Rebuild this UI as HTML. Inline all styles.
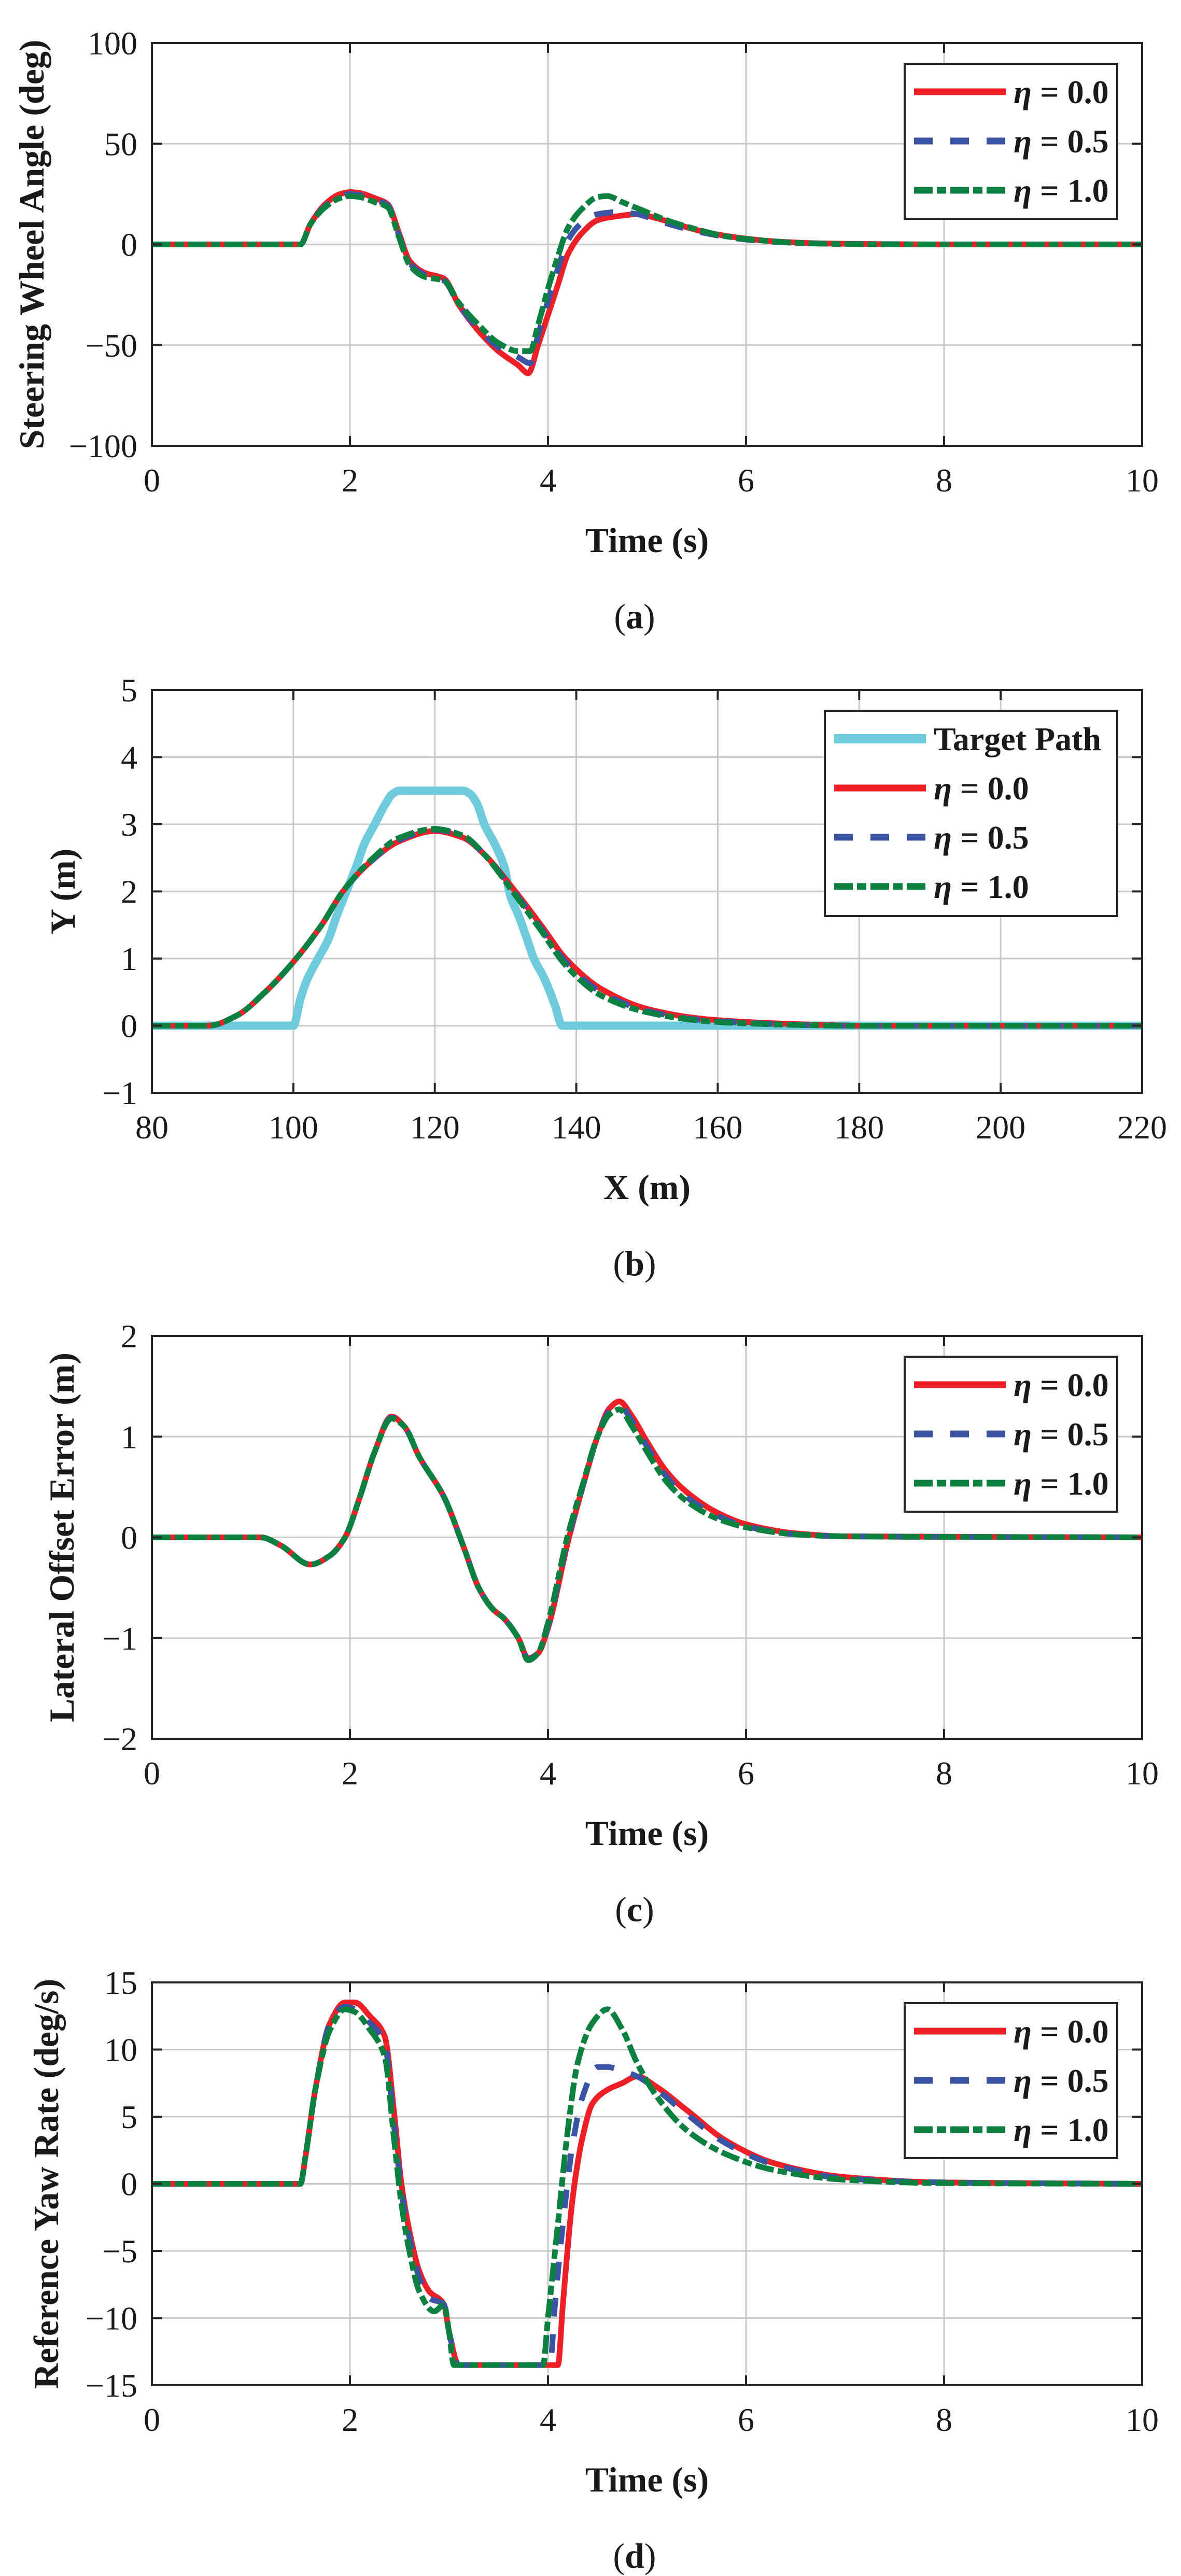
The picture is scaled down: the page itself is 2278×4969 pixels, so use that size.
<!DOCTYPE html>
<html><head><meta charset="utf-8"><style>
html,body{margin:0;padding:0;background:#fff;}
svg{display:block;}
text{font-family:"Liberation Serif",serif;fill:#1a1a1a;}
</style></head><body>
<svg id="fig" width="2278" height="4969" viewBox="0 0 2278 4969" xmlns="http://www.w3.org/2000/svg"></svg>
<script>
// ---------- Panel (a): Steering wheel angle ----------
const aT0 = [0,1.5,1.6,1.75,1.9,2.0,2.1,2.25,2.38,2.5,2.6,2.75,2.95,3.1,3.3,3.5,3.7,3.8,3.9,4.0,4.1,4.2,4.35,4.5,4.7,4.9,5.1,5.3,5.6,5.9,6.3,6.8,7.3,8,10];
const aV0 = [0,0,10,20,25,26,25.5,23,20,5,-8,-14,-17,-30,-43,-53,-60,-64,-50,-35,-20,-5,6,12,14,15,13,10,6,3.5,1.5,0.5,0.2,0,0];
const aT1 = [0,1.5,1.6,1.75,1.9,2.0,2.1,2.25,2.38,2.5,2.6,2.75,2.95,3.1,3.3,3.5,3.7,3.82,3.9,4.0,4.1,4.2,4.35,4.5,4.7,4.9,5.1,5.3,5.6,5.9,6.3,6.8,7.3,8,10];
const aV1 = [0,0,10,19,24,25,24.5,22,19.5,4,-9,-15,-18,-30,-42,-51,-56,-59,-45,-28,-12,2,11,15,16,15,12,9,5.5,3,1.2,0.4,0.1,0,0];
const aT2 = [0,1.5,1.6,1.75,1.9,2.0,2.1,2.25,2.38,2.5,2.6,2.75,2.95,3.1,3.3,3.5,3.7,3.82,3.9,4.0,4.1,4.2,4.35,4.5,4.6,4.75,4.95,5.2,5.5,5.8,6.2,6.6,7.2,8,10];
const aV2 = [0,0,10,18.5,23,24,23.5,21,18.5,3,-10,-16,-18,-29,-40,-49,-53,-53,-40,-22,-6,8,18,23.5,24,21,17,12,7.5,4,1.8,0.6,0.1,0,0];
const aXTicks = [0,2,4,6,8,10];
const aYTicks = [-100,-50,0,50,100];

// ---------- Panel (b): Path ----------
const bTX = [80,100,101,102,103.5,105,106,107.5,109,110,111.5,113,114,115,124,125,126,127,128.5,130,130.5,132,133,134,135.5,137,138,150,220];
const bTY = [0,0,0.4,0.7,1.0,1.3,1.6,2.0,2.4,2.7,3.0,3.3,3.45,3.5,3.5,3.45,3.3,3.0,2.7,2.3,2.0,1.6,1.3,1.0,0.7,0.3,0,0,0];
const bX0 = [80,88,92,96,100,104,107,111,115,120,124,127,131,135,138.5,143.5,150,158,165,172,180,220];
const bY0 = [0,0,0.15,0.5,0.95,1.5,2.0,2.45,2.75,2.9,2.8,2.55,2.05,1.5,1.0,0.55,0.25,0.1,0.05,0.02,0,0];
const bX1 = [80,88,92,96,100,104,107,111,115,120,124,127,131,135,138.5,143.5,150,158,165,172,180,220];
const bY1 = [0,0,0.15,0.5,0.95,1.5,2.0,2.45,2.77,2.92,2.82,2.55,2.02,1.45,0.95,0.5,0.22,0.08,0.04,0.01,0,0];
const bX2 = [80,88,92,96,100,104,107,111,115,120,124,127,131,135,138.5,143.5,150,158,165,172,180,220];
const bY2 = [0,0,0.15,0.5,0.95,1.5,2.0,2.47,2.8,2.93,2.83,2.55,2.0,1.42,0.9,0.45,0.2,0.07,0.03,0.01,0,0];
const bXTicks = [80,100,120,140,160,180,200,220];
const bYTicks = [-1,0,1,2,3,4,5];

// ---------- Panel (c): Lateral offset error ----------
const cT0 = [0,1.1,1.3,1.6,1.8,1.95,2.1,2.25,2.42,2.55,2.7,2.95,3.15,3.3,3.45,3.55,3.7,3.8,3.9,4.0,4.2,4.35,4.5,4.62,4.72,4.85,5.0,5.2,5.4,5.7,6.0,6.5,7,10];
const cV0 = [0,0,-0.08,-0.27,-0.18,0,0.4,0.85,1.2,1.1,0.8,0.4,-0.1,-0.5,-0.72,-0.8,-1.0,-1.2,-1.15,-0.9,-0.05,0.5,1.0,1.28,1.35,1.2,0.95,0.65,0.45,0.25,0.13,0.04,0.01,0];
const cT1 = [0,1.1,1.3,1.6,1.8,1.95,2.1,2.25,2.42,2.55,2.7,2.95,3.15,3.3,3.45,3.55,3.7,3.8,3.9,4.0,4.2,4.35,4.5,4.62,4.72,4.85,5.0,5.2,5.4,5.7,6.0,6.5,7,10];
const cV1 = [0,0,-0.08,-0.27,-0.18,0,0.4,0.85,1.19,1.1,0.8,0.4,-0.1,-0.5,-0.72,-0.8,-1.0,-1.21,-1.15,-0.88,-0.02,0.5,1.0,1.25,1.31,1.15,0.9,0.6,0.4,0.22,0.11,0.03,0.01,0];
const cT2 = [0,1.1,1.3,1.6,1.8,1.95,2.1,2.25,2.42,2.55,2.7,2.95,3.15,3.3,3.45,3.55,3.7,3.8,3.9,4.0,4.2,4.35,4.5,4.62,4.72,4.85,5.0,5.2,5.4,5.7,6.0,6.5,7,10];
const cV2 = [0,0,-0.08,-0.27,-0.18,0,0.4,0.85,1.18,1.1,0.8,0.4,-0.1,-0.5,-0.72,-0.8,-1.0,-1.22,-1.15,-0.85,0.02,0.52,1.0,1.22,1.27,1.1,0.85,0.55,0.36,0.19,0.1,0.03,0.01,0];
const cXTicks = [0,2,4,6,8,10];
const cYTicks = [-2,-1,0,1,2];

// ---------- Panel (d): Reference yaw rate ----------
const dT0 = [0,1.5,1.55,1.65,1.8,1.95,2.05,2.2,2.35,2.45,2.52,2.6,2.7,2.8,2.95,3.0,3.1,4.1,4.15,4.25,4.35,4.45,4.6,4.75,4.9,5.1,5.4,5.8,6.3,7,8,10];
const dV0 = [0,0,2,7,12,13.5,13.5,12.5,11,5,0,-3.5,-6.5,-8,-9,-11,-13.5,-13.5,-9,-1,3.5,6,7,7.5,8,7.2,5.5,3.2,1.5,0.5,0.1,0];
const dT1 = [0,1.5,1.55,1.65,1.8,1.95,2.05,2.2,2.35,2.45,2.52,2.6,2.7,2.8,2.95,3.0,3.1,4.02,4.07,4.15,4.25,4.35,4.5,4.6,4.75,4.9,5.1,5.4,5.8,6.3,7,8,10];
const dV1 = [0,0,2,7,12,13.2,13,12,10.5,4,-0.5,-4,-7,-8.5,-9,-11,-13.5,-13.5,-9,-3,3,6.5,8.7,8.7,8.4,8,7,5.2,3,1.4,0.4,0.1,0];
const dT2 = [0,1.5,1.55,1.65,1.8,1.95,2.05,2.2,2.35,2.45,2.52,2.6,2.7,2.85,2.95,3.0,3.05,3.95,4.0,4.1,4.2,4.3,4.45,4.6,4.75,4.9,5.1,5.4,5.8,6.3,7,8,10];
const dV2 = [0,0,2,7,11.5,13,12.8,11.5,9.5,3,-1.5,-5,-8,-9.5,-9,-11,-13.5,-13.5,-10,-3,4,9,12,13,11.5,9,6.5,4,2.2,1,0.3,0.05,0];
const dXTicks = [0,2,4,6,8,10];
const dYTicks = [-15,-10,-5,0,5,10,15];

// ---------- drawing ----------
const NS = "http://www.w3.org/2000/svg";
const svg = document.getElementById('fig');
function mk(tag, attrs, parent){
  const e = document.createElementNS(NS, tag);
  for (const k in attrs) e.setAttribute(k, attrs[k]);
  (parent||svg).appendChild(e);
  return e;
}
const L = 293, R = 2203, PH = 777;
const COL = {red:'#ee1f26', blue:'#3a53a3', green:'#0c8040', cyan:'#6ecbdc'};

// monotone cubic (Fritsch-Carlson) in screen coords; x strictly increasing
function smoothPath(pts){
  const n = pts.length;
  const dx = [], m = [], s = [];
  for (let i=0;i<n-1;i++){ dx[i] = pts[i+1][0]-pts[i][0]; s[i] = (pts[i+1][1]-pts[i][1])/(dx[i]||1e-6); }
  m[0] = s[0]; m[n-1] = s[n-2];
  for (let i=1;i<n-1;i++){
    if (s[i-1]*s[i] <= 0) m[i] = 0;
    else { const w1 = 2*dx[i]+dx[i-1], w2 = dx[i]+2*dx[i-1]; m[i] = (w1+w2)/(w1/s[i-1]+w2/s[i]); }
  }
  let d = 'M' + pts[0][0].toFixed(1) + ',' + pts[0][1].toFixed(1);
  for (let i=0;i<n-1;i++){
    const h = dx[i]/3;
    d += ' C' + (pts[i][0]+h).toFixed(1)+','+(pts[i][1]+m[i]*h).toFixed(1)+' '+
         (pts[i+1][0]-h).toFixed(1)+','+(pts[i+1][1]-m[i+1]*h).toFixed(1)+' '+
         pts[i+1][0].toFixed(1)+','+pts[i+1][1].toFixed(1);
  }
  return d;
}

function panel(cfg){
  const T = cfg.top, B = cfg.top + PH;
  const g = mk('g', {});
  
  
  const xMin = cfg.xt[0], xMax = cfg.xt[cfg.xt.length-1];
  const yMin = cfg.yt[0], yMax = cfg.yt[cfg.yt.length-1];
  const sx = v => L + (v - xMin) / (xMax - xMin) * (R - L);
  const sy = v => B - (v - yMin) / (yMax - yMin) * (B - T);
  cfg.xt.forEach(v => {
    const gl = mk('line', {x1:sx(v), x2:sx(v), y1:T, y2:B, stroke:'#c8c8c8', 'stroke-width':3}, g);
    
    
  });
  cfg.yt.forEach(v => {
    const gl = mk('line', {x1:L, x2:R, y1:sy(v), y2:sy(v), stroke:'#c8c8c8', 'stroke-width':3}, g);
    
    
  });
  cfg.series.forEach(s => {
    const pts = s.x.map((xv,i) => [sx(xv), sy(s.y[i])]);
    const p = mk('path', {d:smoothPath(pts), fill:'none', stroke:s.color, 'stroke-width':s.w||11, 'stroke-linejoin':'round'}, g);
    if (s.dash) p.setAttribute('stroke-dasharray', s.dash);
    
    
  });
  const fr = mk('rect', {x:L, y:T, width:R-L, height:B-T, fill:'none', stroke:'#262626', 'stroke-width':4}, g);
  
  
  cfg.xt.forEach(v => {
    mk('line', {x1:sx(v), x2:sx(v), y1:B, y2:B-19, stroke:'#262626', 'stroke-width':4}, g);
    mk('line', {x1:sx(v), x2:sx(v), y1:T, y2:T+19, stroke:'#262626', 'stroke-width':4}, g);
    const t = mk('text', {x:sx(v), y:B+88, 'text-anchor':'middle', 'font-size':64}, g);
    t.textContent = v;
    
    
  });
  cfg.yt.forEach(v => {
    mk('line', {x1:L, x2:L+19, y1:sy(v), y2:sy(v), stroke:'#262626', 'stroke-width':4}, g);
    mk('line', {x1:R, x2:R-19, y1:sy(v), y2:sy(v), stroke:'#262626', 'stroke-width':4}, g);
    const t = mk('text', {x:265, y:sy(v)+22, 'text-anchor':'end', 'font-size':64}, g);
    t.textContent = v < 0 ? '\u2212' + Math.abs(v) : v;
    
    
  });
  const xt = mk('text', {x:(L+R)/2, y:B+205, 'text-anchor':'middle', 'font-size':68, 'font-weight':'bold'}, g);
  xt.textContent = cfg.xtitle;
  
  
  const yc = (T+B)/2;
  const yt = mk('text', {x:0, y:0, 'text-anchor':'middle', 'font-size':68, 'font-weight':'bold', transform:'translate('+(cfg.ytx+24)+','+yc+') rotate(-90)'}, g);
  yt.textContent = cfg.ytitle;
  
  
  const cap = mk('text', {x:1224, y:B+352, 'text-anchor':'middle', 'font-size':68}, g);
  cap.appendChild(document.createTextNode('('));
  const bb = mk('tspan', {'font-weight':'bold'}, cap); bb.textContent = cfg.cap;
  cap.appendChild(document.createTextNode(')'));
  
  
  const lg = mk('g', {}, g);
  
  
  const lw = cfg.legend;
  mk('rect', {x:lw.x, y:T+40, width:2155-lw.x, height:lw.h, fill:'#fff', stroke:'#262626', 'stroke-width':4}, lg);
  lw.items.forEach((it, i) => {
    const ry = T + 94 + i*95;
    const ln = mk('line', {x1:lw.x+18, x2:lw.x+195, y1:ry, y2:ry, stroke:it.color, 'stroke-width':it.w||13}, lg);
    if (it.dash) ln.setAttribute('stroke-dasharray', it.dash);
    const tx = mk('text', {x:lw.x+210, y:ry+22, 'font-size':64, 'font-weight':'bold'}, lg);
    if (it.eta) {
      const e = mk('tspan', {'font-style':'italic'}, tx); e.textContent = '\u03b7';
      tx.appendChild(document.createTextNode(' = ' + it.label));
    } else tx.textContent = it.label;
    
    
  });
}

const D_BLUE = '36 34', D_GREEN = '36 8 18 8';
const etaItems = [
  {color:COL.red, eta:true, label:'0.0'},
  {color:COL.blue, eta:true, label:'0.5', dash:D_BLUE},
  {color:COL.green, eta:true, label:'1.0', dash:D_GREEN}
];
function tri(x0,y0,x1,y1,x2,y2){
  return [
    {name:'series-eta-0.0', x:x0, y:y0, color:COL.red},
    {name:'series-eta-0.5', x:x1, y:y1, color:COL.blue, dash:D_BLUE},
    {name:'series-eta-1.0', x:x2, y:y2, color:COL.green, dash:D_GREEN}
  ];
}

panel({name:'panel-a-steering-angle', top:83, xt:aXTicks, yt:aYTicks, xtitle:'Time (s)', ytitle:'Steering Wheel Angle (deg)', ytx:60, cap:'a',
  series:tri(aT0,aV0,aT1,aV1,aT2,aV2), legend:{x:1745, h:299, items:etaItems}});
panel({name:'panel-b-path', top:1331, xt:bXTicks, yt:bYTicks, xtitle:'X (m)', ytitle:'Y (m)', ytx:120, cap:'b',
  series:[{name:'series-target-path', x:bTX, y:bTY, color:COL.cyan, w:16}].concat(tri(bX0,bY0,bX1,bY1,bX2,bY2)),
  legend:{x:1591, h:396, items:[{color:COL.cyan, label:'Target Path', w:18}].concat(etaItems)}});
panel({name:'panel-c-lateral-error', top:2577, xt:cXTicks, yt:cYTicks, xtitle:'Time (s)', ytitle:'Lateral Offset Error (m)', ytx:118, cap:'c',
  series:tri(cT0,cV0,cT1,cV1,cT2,cV2), legend:{x:1745, h:299, items:etaItems}});
panel({name:'panel-d-yaw-rate', top:3824, xt:dXTicks, yt:dYTicks, xtitle:'Time (s)', ytitle:'Reference Yaw Rate (deg/s)', ytx:88, cap:'d',
  series:tri(dT0,dV0,dT1,dV1,dT2,dV2), legend:{x:1745, h:299, items:etaItems}});
</script>
</body></html>
